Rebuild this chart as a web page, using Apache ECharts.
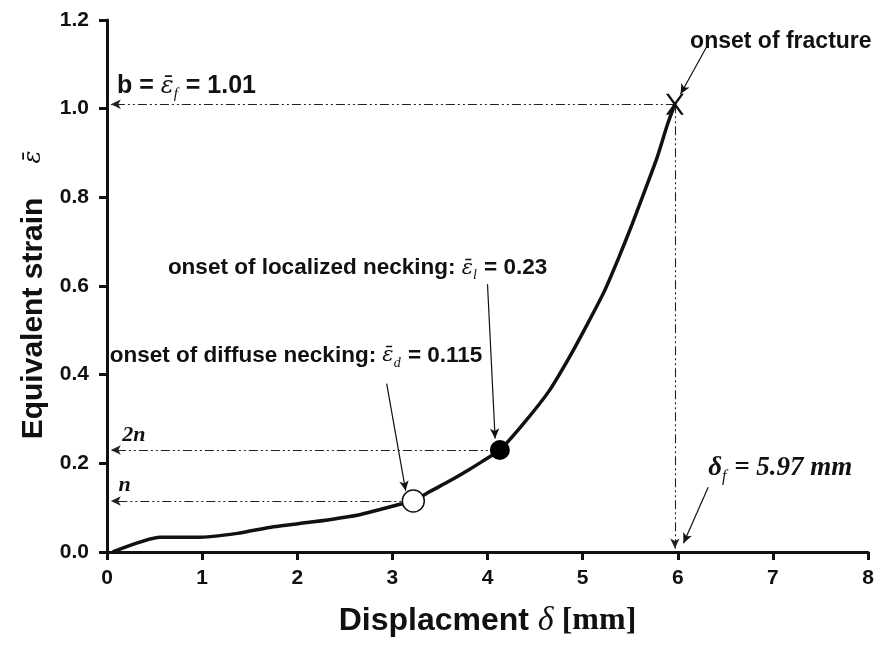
<!DOCTYPE html>
<html>
<head>
<meta charset="utf-8">
<script src="https://cdn.jsdelivr.net/npm/echarts@6/dist/echarts.min.js"></script>
<style>html,body{margin:0;padding:0;background:#fff}#c{width:880px;height:648px}</style>
</head>
<body>
<div id="c"></div>
<script>
// ---- data ----
var curveX = [0.06, 0.56, 0.94, 1.37, 1.75, 2.17, 2.63, 2.87, 3.05, 3.22, 3.4, 3.6, 3.8, 3.95, 4.13, 4.38, 4.65, 4.86, 5.05, 5.23, 5.38, 5.52, 5.65, 5.78, 5.89, 5.97];
var curveY = [0.0, 0.033, 0.033, 0.042, 0.057, 0.068, 0.083, 0.096, 0.106, 0.115, 0.137, 0.16, 0.185, 0.205, 0.23, 0.29, 0.364, 0.439, 0.514, 0.589, 0.664, 0.739, 0.813, 0.888, 0.963, 1.01];
var diffusePoint = [3.22, 0.115];
var localizedPoint = [4.13, 0.23];
var fracturePoint = [5.97, 1.01];
var xTicks = [0, 1, 2, 3, 4, 5, 6, 7, 8];
var yTicks = [0.0, 0.2, 0.4, 0.6, 0.8, 1.0, 1.2];
// annotation anchors (data coordinates)
var labelAnchors = {
  b: [0.105, 1.05],
  fracture: [6.13, 1.151],
  localized: [0.64, 0.64],
  diffuse: [0.03, 0.443],
  twoN: [0.16, 0.263],
  n: [0.12, 0.151],
  deltaF: [6.32, 0.189]
};
var arrowFracture = [[6.32, 1.146], [6.03, 1.033]];
var arrowLocalized = [[4.0, 0.604], [4.08, 0.256]];
var arrowDiffuse = [[2.94, 0.38], [3.14, 0.138]];
var arrowDeltaF = [[6.32, 0.146], [6.06, 0.02]];

var SANS = "'Liberation Sans', Arial, Helvetica, sans-serif";
var SERIF = "'Liberation Serif', 'DejaVu Serif', 'Times New Roman', serif";
var EPSFONT = "'DejaVu Serif', 'Liberation Serif', serif";
var INK = '#111';
var EPS = '\u03b5\u0304';

var chart = echarts.init(document.getElementById('c'), null, {renderer: 'canvas'});

var curveData = curveX.map(function (x, i) { return [x, curveY[i]]; });

function annRich(sz) {
  return {
    t: {fontFamily: SANS, fontWeight: 'bold', fontSize: sz, color: INK, lineHeight: sz + 6},
    e: {fontFamily: EPSFONT, fontStyle: 'italic', fontSize: Math.round(sz * 0.95), color: INK, lineHeight: sz + 6},
    s: {fontFamily: SERIF, fontStyle: 'italic', fontSize: Math.round(sz * 0.6), color: INK, lineHeight: sz + 6, verticalAlign: 'bottom', padding: [0, 1, 0, 0]},
    it: {fontFamily: SERIF, fontStyle: 'italic', fontWeight: 'bold', fontSize: sz, color: INK, lineHeight: sz + 6}
  };
}

function ann(pos, text, sz) {
  return {
    value: pos,
    label: {
      show: true,
      position: [0, 0],
      align: 'left',
      verticalAlign: 'middle',
      opacity: 1,
      formatter: text,
      rich: annRich(sz)
    }
  };
}

var dash = [9, 3, 2, 3, 2, 3];
var dashStyle = {type: dash, width: 1.1, color: '#222'};
var arrowStyle = {type: 'solid', width: 1.2, color: '#111'};

function seg(p, q, style) {
  return [{coord: p, lineStyle: style}, {coord: q}];
}

var option = {
  animation: false,
  backgroundColor: '#fff',
  grid: {left: 107, right: 12, top: 20, bottom: 96, containLabel: false},
  xAxis: {
    type: 'value', min: xTicks[0], max: xTicks[xTicks.length - 1], interval: 1,
    name: '{t|Displacment }{d|\u03b4}{m| [mm]}',
    nameLocation: 'middle', nameGap: 52,
    nameTextStyle: {
      rich: {
        t: {fontFamily: SANS, fontWeight: 'bold', fontSize: 32, color: INK},
        d: {fontFamily: SERIF, fontStyle: 'italic', fontSize: 34, color: INK},
        m: {fontFamily: SERIF, fontWeight: 'bold', fontSize: 32, color: INK}
      }
    },
    axisLine: {show: true, onZero: false, lineStyle: {color: INK, width: 3}},
    axisTick: {show: true, inside: false, length: 8, lineStyle: {color: INK, width: 3}},
    axisLabel: {fontFamily: SANS, fontWeight: 'bold', fontSize: 21, color: INK, margin: 16},
    splitLine: {show: false}
  },
  yAxis: {
    type: 'value', min: yTicks[0], max: yTicks[yTicks.length - 1], interval: 0.2,
    name: '{t|Equivalent strain}{e|' + EPS + '}',
    nameLocation: 'middle', nameGap: 58, nameRotate: 90,
    nameTextStyle: {
      rich: {
        t: {fontFamily: SANS, fontWeight: 'bold', fontSize: 30, color: INK},
        e: {fontFamily: EPSFONT, fontStyle: 'italic', fontSize: 24, color: INK, padding: [0, 18, 0, 34]}
      }
    },
    axisLine: {show: true, onZero: false, lineStyle: {color: INK, width: 3}},
    axisTick: {show: true, inside: false, length: 8, lineStyle: {color: INK, width: 3}},
    axisLabel: {fontFamily: SANS, fontWeight: 'bold', fontSize: 21, color: INK, margin: 18,
      formatter: function (v) { return v.toFixed(1); }},
    splitLine: {show: false}
  },
  series: [
    {
      name: 'strain', type: 'line', data: curveData, symbol: 'none', smooth: 0.2,
      lineStyle: {color: INK, width: 3.5}, z: 3,
      markLine: {
        silent: true, symbol: ['none', 'arrow'], symbolSize: [7, 10],
        label: {show: false}, animation: false,
        data: [
          seg(fracturePoint, [0.04, fracturePoint[1]], dashStyle),
          seg(fracturePoint, [fracturePoint[0], 0.008], dashStyle),
          seg(localizedPoint, [0.04, localizedPoint[1]], dashStyle),
          seg(diffusePoint, [0.04, diffusePoint[1]], dashStyle),
          seg(arrowFracture[0], arrowFracture[1], arrowStyle),
          seg(arrowLocalized[0], arrowLocalized[1], arrowStyle),
          seg(arrowDiffuse[0], arrowDiffuse[1], arrowStyle),
          seg(arrowDeltaF[0], arrowDeltaF[1], arrowStyle)
        ]
      }
    },
    {
      name: 'onsets', type: 'scatter', z: 5,
      itemStyle: {opacity: 1},
      data: [
        {value: diffusePoint, symbol: 'circle', symbolSize: 22, itemStyle: {color: '#fff', borderColor: INK, borderWidth: 1.5, opacity: 1}},
        {value: localizedPoint, symbol: 'circle', symbolSize: 20, itemStyle: {color: '#000', opacity: 1}},
        {value: fracturePoint, symbol: 'path://M0,0L16,0L100,100L84,100Z M84,0L100,0L16,100L0,100Z', symbolSize: [18, 21], itemStyle: {color: '#111', opacity: 1}}
      ]
    },
    {
      name: 'annotations', type: 'scatter', symbolSize: 0, z: 6, silent: true,
      itemStyle: {opacity: 1},
      data: [
        ann(labelAnchors.b, '{t|b = }{e|' + EPS + '}{s|f}{t| = 1.01}', 25),
        ann(labelAnchors.fracture, '{t|onset of fracture}', 23),
        ann(labelAnchors.localized, '{t|onset of localized necking: }{e|' + EPS + '}{s|l}{t| = 0.23}', 22.5),
        ann(labelAnchors.diffuse, '{t|onset of diffuse necking: }{e|' + EPS + '}{s|d}{t| = 0.115}', 22.5),
        ann(labelAnchors.twoN, '{it|2n}', 22),
        ann(labelAnchors.n, '{it|n}', 22),
        ann(labelAnchors.deltaF, '{it|\u03b4}{s|f}{it| = 5.97 mm}', 27)
      ]
    }
  ]
};
chart.setOption(option);
</script>
</body>
</html>
